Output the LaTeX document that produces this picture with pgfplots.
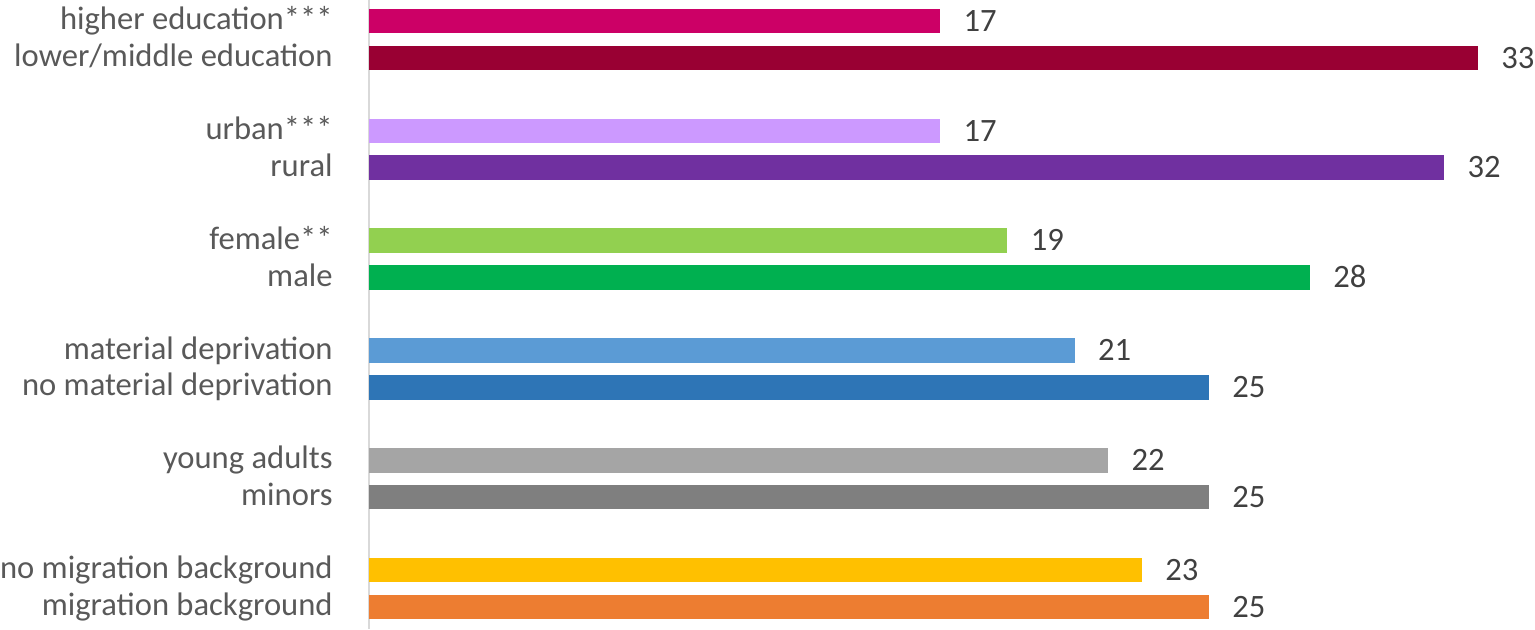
\documentclass[border=0pt]{standalone}
\usepackage{pgfplots}
\pgfplotsset{compat=1.18}
\usepackage{fontspec}
\setmainfont{Carlito}
\definecolor{cA1}{HTML}{CC0066}
\definecolor{cA2}{HTML}{990033}
\definecolor{cB1}{HTML}{CC99FF}
\definecolor{cB2}{HTML}{7030A0}
\definecolor{cC1}{HTML}{92D050}
\definecolor{cC2}{HTML}{00B050}
\definecolor{cD1}{HTML}{5B9BD5}
\definecolor{cD2}{HTML}{2E75B6}
\definecolor{cE1}{HTML}{A5A5A5}
\definecolor{cE2}{HTML}{7F7F7F}
\definecolor{cF1}{HTML}{FFC000}
\definecolor{cF2}{HTML}{ED7D31}
\definecolor{labgray}{HTML}{595959}
\definecolor{numgray}{HTML}{404040}
\begin{document}
\begin{tikzpicture}
\begin{axis}[
  scale only axis, width=583pt, height=314.5pt,
  xmin=0, xmax=34.7, ymin=0, ymax=629, y dir=reverse,
  axis x line=none, axis y line=left,
  y axis line style={-, draw=black!15, line width=1pt},
  ytick={21,57.8,130.8,167.6,240.6,277.4,350.4,387.2,460.2,497,570,606.8},
  yticklabels={higher education***, lower/middle education, urban***, rural, female**, male, material deprivation, no material deprivation, young adults, minors, no migration background, migration background},
  major tick length=0pt, ytick style={draw=none},
  yticklabel style={font=\fontsize{16.3}{19}\selectfont, text=labgray, anchor=east, inner sep=0pt, xshift=-18pt, text height=11.2pt, text depth=2.6pt},
  point meta=x,
  /pgf/number format/assume math mode=true,
  nodes near coords,
  every node near coord/.append style={font=\fontsize{16.3}{19}\selectfont, text=numgray, anchor=west, inner sep=0pt, xshift=11.5pt, text height=10.3pt, text depth=0pt},
  clip=false,
]
\addplot[xbar, bar shift=0pt, bar width=12.3pt, fill=cA1, draw=none] coordinates {(17,21)};
\addplot[xbar, bar shift=0pt, bar width=12.3pt, fill=cA2, draw=none] coordinates {(33,57.8)};
\addplot[xbar, bar shift=0pt, bar width=12.3pt, fill=cB1, draw=none] coordinates {(17,130.8)};
\addplot[xbar, bar shift=0pt, bar width=12.3pt, fill=cB2, draw=none] coordinates {(32,167.6)};
\addplot[xbar, bar shift=0pt, bar width=12.3pt, fill=cC1, draw=none] coordinates {(19,240.6)};
\addplot[xbar, bar shift=0pt, bar width=12.3pt, fill=cC2, draw=none] coordinates {(28,277.4)};
\addplot[xbar, bar shift=0pt, bar width=12.3pt, fill=cD1, draw=none] coordinates {(21,350.4)};
\addplot[xbar, bar shift=0pt, bar width=12.3pt, fill=cD2, draw=none] coordinates {(25,387.2)};
\addplot[xbar, bar shift=0pt, bar width=12.3pt, fill=cE1, draw=none] coordinates {(22,460.2)};
\addplot[xbar, bar shift=0pt, bar width=12.3pt, fill=cE2, draw=none] coordinates {(25,497)};
\addplot[xbar, bar shift=0pt, bar width=12.3pt, fill=cF1, draw=none] coordinates {(23,570)};
\addplot[xbar, bar shift=0pt, bar width=12.3pt, fill=cF2, draw=none] coordinates {(25,606.8)};
\end{axis}
\pgfresetboundingbox
\path ([xshift=-184.5pt]current axis.south west) rectangle (current axis.north east);
\end{tikzpicture}
\end{document}
